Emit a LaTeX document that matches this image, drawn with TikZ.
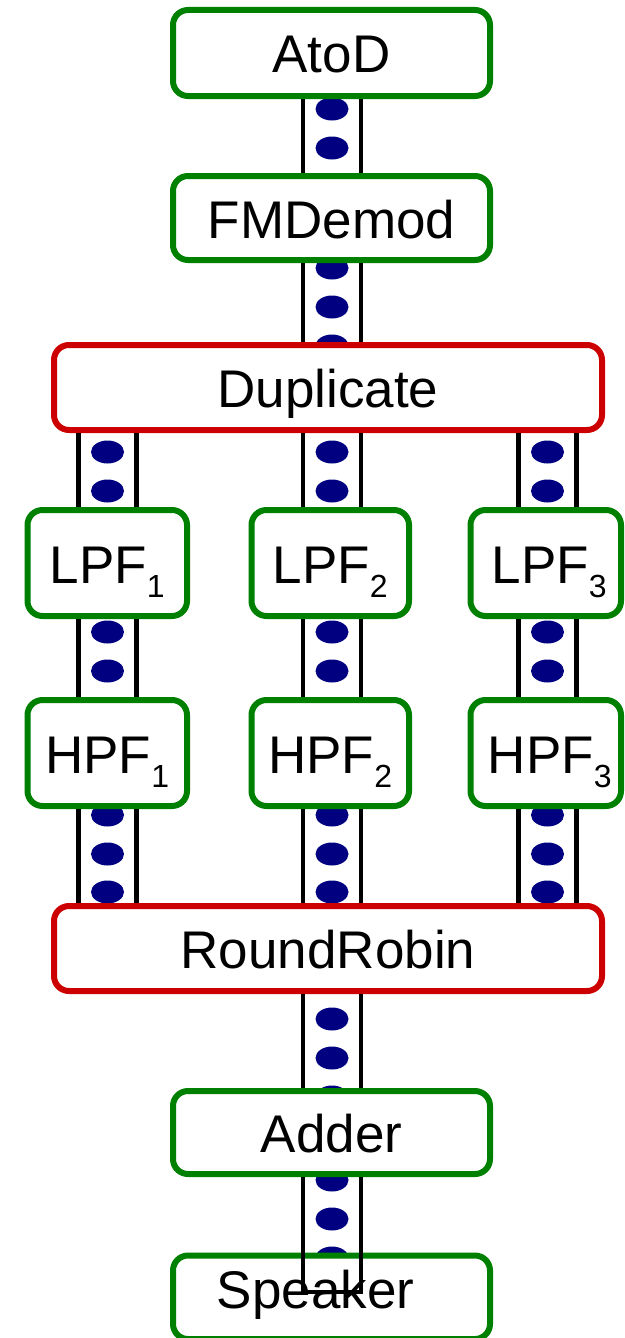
\documentclass[tikz,border=0pt]{standalone}
\usepackage{fontspec}
\setmainfont{Liberation Sans}
\usetikzlibrary{calc}
\definecolor{boxgreen}{RGB}{0,128,0}
\definecolor{boxred}{RGB}{204,0,0}
\definecolor{dotblue}{RGB}{0,0,128}
\newcommand{\fifo}[3]{%
  \draw[chan] ($(#3 |- #1.south)+(-29,0)$) -- ($(#3 |- #2.north)+(-29,0)$);
  \draw[chan] ($(#3 |- #1.south)+(29,0)$) -- ($(#3 |- #2.north)+(29,0)$);}
\newcommand{\tok}[2]{\fill[dotblue] (#1,#2) ellipse [x radius=16.5pt, y radius=11.5pt];}
\newcommand{\subs}[1]{\raisebox{-14pt}{\fontsize{32}{32}\selectfont #1}}
\begin{document}
\begin{tikzpicture}[x=1pt,y=-1pt,
  actor/.style={draw=boxgreen, line width=6pt, rounded corners=15pt, fill=white,
    inner sep=0pt, font=\fontsize{53}{60}\selectfont, text height=40pt, text depth=0pt},
  redactor/.style={actor, draw=boxred},
  chan/.style={line width=4.5pt, draw=black}]
\useasboundingbox (0,0) rectangle (624,1338);
% channel axes
\coordinate (cL) at (107.5,0);
\coordinate (cM) at (332,0);
\coordinate (cR) at (547.5,0);
\coordinate (spkend) at (332,1292);
% tokens
\foreach \y in {109,148,187,268,307,346,1019,1058,1097,1180,1219,1258} {\tok{332}{\y}}
\foreach \x in {107.5,332,547.5} {
  \foreach \y in {452,491,530,632,671,710,815,854,892} {\tok{\x}{\y}}
}
% actors
\node[actor, minimum width=317pt, minimum height=86pt] (atod) at (331.5,53) {AtoD};
\node[actor, minimum width=317pt, minimum height=84pt] (fm) at (331.5,218) {FMDemod};
\node[redactor, minimum width=548pt, minimum height=85pt] (dup) at (328,387.5) {Duplicate};
\node[actor, minimum width=159.5pt, minimum height=106pt] (lpf1) at (107.25,563) {LPF\subs{1}};
\node[actor, minimum width=157.5pt, minimum height=106pt] (lpf2) at (330.25,563) {LPF\subs{2}};
\node[actor, minimum width=150.5pt, minimum height=106pt] (lpf3) at (545.75,563) {\hspace*{7pt}LPF\subs{3}};
\node[actor, minimum width=159.5pt, minimum height=106pt] (hpf1) at (107.25,753) {HPF\subs{1}};
\node[actor, minimum width=157.5pt, minimum height=106pt] (hpf2) at (330.25,753) {HPF\subs{2}};
\node[actor, minimum width=150.5pt, minimum height=106pt] (hpf3) at (545.75,753) {\hspace*{8pt}HPF\subs{3}};
\node[redactor, minimum width=548pt, minimum height=85pt] (rr) at (328,948.5) {RoundRobin};
\node[actor, minimum width=317pt, minimum height=83pt] (adder) at (331.5,1132.5) {Adder};
\node[actor, minimum width=317pt, minimum height=83.5pt, text depth=18pt] (spk) at (331.5,1297.25) {Speaker\hspace*{32pt}};
% channels
\fifo{atod}{fm}{cM}
\fifo{fm}{dup}{cM}
\fifo{dup}{lpf1}{cL}
\fifo{dup}{lpf2}{cM}
\fifo{dup}{lpf3}{cR}
\fifo{lpf1}{hpf1}{cL}
\fifo{lpf2}{hpf2}{cM}
\fifo{lpf3}{hpf3}{cR}
\fifo{hpf1}{rr}{cL}
\fifo{hpf2}{rr}{cM}
\fifo{hpf3}{rr}{cR}
\fifo{rr}{adder}{cM}
\draw[chan] ($(cM |- adder.south)+(-29,0)$) -- ($(spkend)+(-29,0)$) -- ($(spkend)+(29,0)$) -- ($(cM |- adder.south)+(29,0)$);
\end{tikzpicture}
\end{document}
